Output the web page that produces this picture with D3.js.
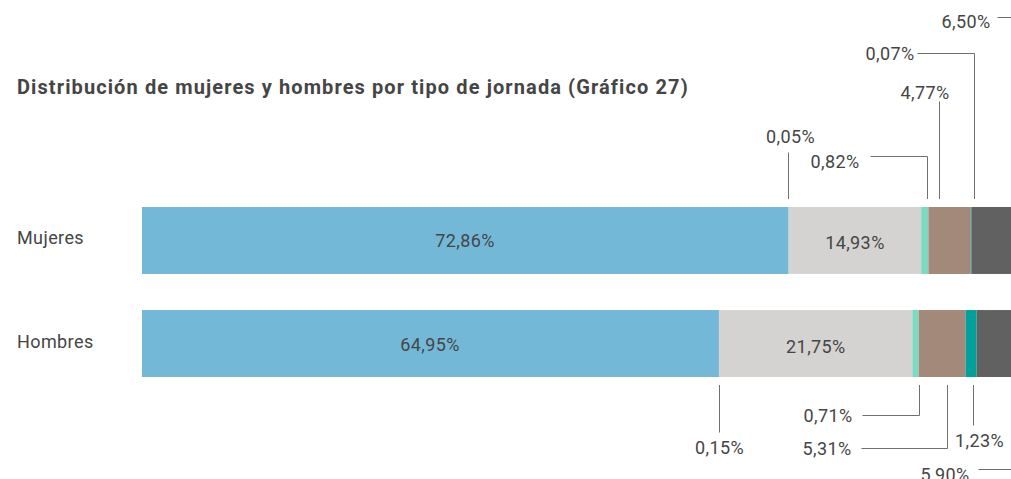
<!DOCTYPE html>
<html>
<head>
<meta charset="utf-8">
<script src="https://cdn.jsdelivr.net/npm/d3@7"></script>
<style>
  html, body { margin: 0; padding: 0; background: #fff; overflow: hidden; }
  svg { display: block; font-family: Roboto, "Noto Sans", sans-serif; }
</style>
</head>
<body>
<svg id="chart" width="1011" height="479"></svg>
<script>
// ---- data ----------------------------------------------------------------
const title = "Distribución de mujeres y hombres por tipo de jornada (Gráfico 27)";
const categories = ["Mujeres", "Hombres"];
const segmentKeys = ["s1", "s2", "s3", "s4", "s5", "s6", "s7"];
const mujeres = [72.86, 0.05, 14.93, 0.82, 4.77, 0.07, 6.50];
const hombres = [64.95, 0.15, 21.75, 0.71, 5.31, 1.23, 5.90];
const segmentColors = ["#74b8d8", "#7ab2cf", "#d4d3d1", "#7ed9c3", "#a38979", "#00a19a", "#616161"];

// callout layout: which segment, where the leader line sits and where its text goes
const callouts = [
    { row: 0, seg: 1, at: 0.5, dx: 0, rise: 55, reach: 0, textDx: 2, textDy: -10 },
    { row: 0, seg: 3, at: 0.85, dx: 0, rise: 51, reach: 57, gap: 11, textDy: 11 },
    { row: 0, seg: 4, at: 0.25, dx: 0, rise: 106, reach: 0, textDx: 10, anchor: "end", textDy: -3 },
    { row: 0, seg: 5, at: 0.5, dx: 3, rise: 154, reach: 57, gap: 3, textDy: 6 },
    { row: 0, seg: 6, at: 0.5, dx: 60, rise: 190, reach: 63, gap: 7, textDy: 10 },
    { row: 1, seg: 1, at: 0.5, dx: 0, rise: 55, reach: 0, textDx: 0, textDy: 21 },
    { row: 1, seg: 3, at: 1.0, dx: 0, rise: 38, reach: 57, gap: 10, textDy: 6 },
    { row: 1, seg: 4, at: 0.6, dx: 0, rise: 71, reach: 86, gap: 10, textDy: 6 },
    { row: 1, seg: 5, at: 0.5, dx: 2, rise: 48, reach: 0, textDx: 6, textDy: 21 },
    { row: 1, seg: 6, at: 0.5, dx: 60, rise: 92, reach: 85, gap: 9, textDy: 11 }
];

// ---- setup ---------------------------------------------------------------
const rows = [mujeres, hombres];
const fmt = v => d3.format(".2f")(v).replace(".", ",") + "%";
const textColor = "#454545";
const labelSize = "18px";
const labelSpacing = "0.4px";

const svg = d3.select("#chart");

const x = d3.scaleLinear()
    .domain([0, 100])
    .range([142, 1029]);

const y = d3.scaleBand()
    .domain(categories)
    .range([207, 377])
    .paddingInner(0.35)
    .paddingOuter(0);

const mid = cat => y(cat) + y.bandwidth() / 2;

// stacked positions per row
const stacked = rows.map((vals, ri) => {
    let acc = 0;
    return vals.map((v, i) => {
        const d = { row: ri, cat: categories[ri], key: segmentKeys[i], i, value: v, x0: acc, x1: acc + v };
        acc += v;
        return d;
    });
});

// Title
svg.append("text")
    .attr("x", 17)
    .attr("y", 94)
    .style("font-size", "20px")
    .style("font-weight", "700")
    .style("letter-spacing", "1.1px")
    .style("fill", textColor)
    .text(title);

// Category labels
svg.selectAll(".cat-label")
    .data(categories)
    .enter()
    .append("text")
    .attr("class", "cat-label")
    .attr("x", 17)
    .attr("y", d => mid(d) + 4)
    .style("font-size", labelSize)
    .style("letter-spacing", labelSpacing)
    .style("fill", textColor)
    .text(d => d);

// Bars
const rowG = svg.selectAll(".row")
    .data(stacked)
    .enter()
    .append("g")
    .attr("class", "row");

rowG.selectAll("rect")
    .data(d => d)
    .enter()
    .append("rect")
    .attr("x", d => x(d.x0))
    .attr("y", d => y(d.cat))
    .attr("width", d => x(d.x1) - x(d.x0))
    .attr("height", y.bandwidth())
    .attr("fill", d => segmentColors[d.i]);

// In-bar labels for the wide segments
rowG.selectAll(".in-label")
    .data(d => d.filter(s => s.value > 10))
    .enter()
    .append("text")
    .attr("class", "in-label")
    .attr("x", d => (x(d.x0) + x(d.x1)) / 2)
    .attr("y", d => mid(d.cat) + (d.i === 0 ? 7 : 9))
    .attr("text-anchor", "middle")
    .style("font-size", labelSize)
    .style("letter-spacing", labelSpacing)
    .style("fill", textColor)
    .text(d => fmt(d.value));

// Callouts with leader lines
const lineColor = "#6f6f6f";
callouts.forEach(c => {
    const s = stacked[c.row][c.seg];
    const up = c.row === 0;
    const sign = up ? -1 : 1;
    const edge = up ? y(s.cat) : y(s.cat) + y.bandwidth();
    const lx = Math.round(x(s.x0) + (x(s.x1) - x(s.x0)) * c.at + c.dx) + 0.5;
    const start = edge + sign * 8;
    const elbow = edge + sign * c.rise + 0.5;

    let path = `M${lx},${start}V${elbow}`;
    if (c.reach) path += `H${lx - c.reach}`;

    svg.append("path")
        .attr("d", path)
        .attr("fill", "none")
        .attr("stroke", lineColor)
        .attr("stroke-width", 1);

    const t = svg.append("text")
        .style("font-size", labelSize)
        .style("letter-spacing", labelSpacing)
        .style("fill", textColor)
        .text(fmt(s.value));

    if (c.reach) {
        t.attr("x", lx - c.reach - c.gap)
            .attr("y", elbow + c.textDy)
            .attr("text-anchor", "end");
    } else {
        t.attr("x", lx + c.textDx)
            .attr("y", elbow + c.textDy)
            .attr("text-anchor", c.anchor || "middle");
    }
});
</script>
</body>
</html>
